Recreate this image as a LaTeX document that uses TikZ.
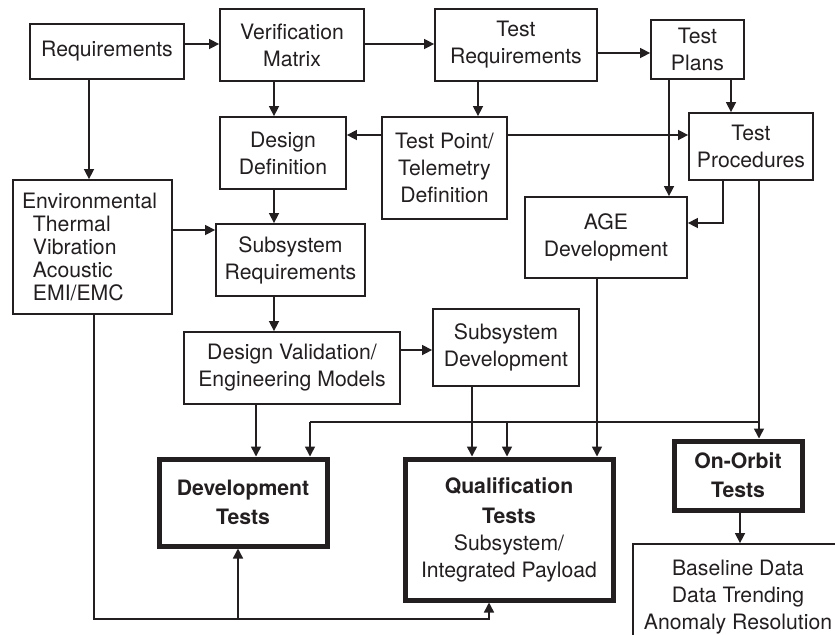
\documentclass[tikz,border=0pt]{standalone}
\usepackage{fontspec}
\setmainfont{TeX Gyre Heros}
\usetikzlibrary{arrows.meta,calc}
\definecolor{ink}{HTML}{231F20}
\begin{document}
\begin{tikzpicture}[x=0.5pt,y=-0.5pt, color=ink,
  bx/.style 2 args={draw=ink, text=ink, line width=0.9pt, align=center, inner sep=0pt,
    minimum width=#1*0.5pt, minimum height=#2*0.5pt,
    font=\fontsize{10.6pt}{13.5pt}\selectfont},
  tk/.style 2 args={bx={#1}{#2}, line width=2.5pt},
  arr/.style={draw=ink, line width=0.75pt, -{Triangle[length=5pt,width=5pt]}},
  ln/.style={draw=ink, line width=0.75pt}]
\useasboundingbox (0,0) rectangle (835,634);

% nodes
\node[bx={154}{55}] (req) at (107,51.5) {Requirements};
\node[bx={144}{72}] (vm) at (292,45) {Verification\\Matrix};
\node[bx={162}{72}] (treq) at (516,45) {Test\\Requirements};
\node[bx={93}{59}] (tplans) at (697.5,49.5) {Test\\Plans};
\node[bx={126}{72}] (dd) at (283,153) {Design\\Definition};
\node[bx={125}{102}] (tpd) at (444.5,168) {Test Point/\\Telemetry\\Definition};
\node[bx={124}{67}] (tproc) at (751,146.5) {Test\\Procedures};
\node[bx={159}{134}, align=left, text width=70.5pt, inner xsep=4.5pt,
      font=\fontsize{10.6pt}{11.5pt}\selectfont] (env) at (92.5,247)
  {Environmental\\\hspace*{5.5pt}Thermal\\\hspace*{5.5pt}Vibration\\\hspace*{5.5pt}Acoustic\\\hspace*{5.5pt}EMI/EMC};
\node[bx={149}{72}] (sreq) at (290.5,260) {Subsystem\\Requirements};
\node[bx={162}{81}] (age) at (606,237.5) {AGE\\Development};
\node[bx={216}{72}] (dv) at (292,368) {Design Validation/\\Engineering Models};
\node[bx={146}{77}] (sdev) at (506,347.5) {Subsystem\\Development};
\node[tk={168}{87}] (devt) at (243,502.5) {\textbf{Development}\\[1pt]\textbf{Tests}};
\node[tk={208}{141}] (qual) at (509,529.5) {\textbf{Qualification}\\[1.5pt]\textbf{Tests}\\Subsystem/\\Integrated Payload};
\node[tk={128}{69}] (orbit) at (738,475.5) {\textbf{On-Orbit}\\[1pt]\textbf{Tests}};
\begin{scope}
  \clip (0,0) rectangle (835,634);
  \node[bx={210}{106}] (base) at (738,597) {Baseline Data\\Data Trending\\Anomaly Resolution};
\end{scope}

% helper coordinates
\coordinate (y44) at (0,44);
\coordinate (y53) at (0,53);
\coordinate (y135) at (0,135);
\coordinate (y223) at (0,223);
\coordinate (y230) at (0,230);
\coordinate (y350) at (0,350);
\coordinate (y422) at (0,422);
\coordinate (y619) at (0,619);
\coordinate (x89) at (89,0);
\coordinate (x94) at (94,0);
\coordinate (x238) at (238,0);
\coordinate (x256) at (256,0);
\coordinate (x274) at (274,0);
\coordinate (x310) at (310,0);
\coordinate (x472) at (472,0);
\coordinate (x478) at (478,0);
\coordinate (x489) at (489,0);
\coordinate (x507) at (507,0);
\coordinate (x597) at (597,0);
\coordinate (x669) at (669,0);
\coordinate (x723) at (723,0);
\coordinate (x731) at (731,0);
\coordinate (x740) at (740,0);
\coordinate (x759) at (759,0);

% connectors
\draw[arr] (req.east|-y44) -- (vm.west|-y44);
\draw[arr] (vm.east|-y44) -- (treq.west|-y44);
\draw[arr] (treq.east|-y53) -- (tplans.west|-y53);
\draw[arr] (req.south-|x89) -- (env.north-|x89);
\draw[arr] (vm.south-|x274) -- (dd.north-|x274);
\draw[arr] (treq.south-|x478) -- (tpd.north-|x478);
\draw[arr] (tpd.west|-y135) -- (dd.east|-y135);
\draw[arr] (tpd.east|-y135) -- (tproc.west|-y135);
\draw[arr] (tplans.south-|x731) -- (tproc.north-|x731);
\draw[arr] (tplans.south-|x669) -- (age.north-|x669);
\draw[arr] (tproc.south-|x723) |- (age.east|-y223);
\draw[arr] (dd.south-|x274) -- (sreq.north-|x274);
\draw[arr] (env.east|-y230) -- (sreq.west|-y230);
\draw[arr] (sreq.south-|x274) -- (dv.north-|x274);
\draw[arr] (dv.east|-y350) -- (sdev.west|-y350);
\draw[arr] (dv.south-|x256) -- (devt.north-|x256);
\draw[arr] (sdev.south-|x472) -- (qual.north-|x472);
\draw[arr] (age.south-|x597) -- (qual.north-|x597);
\draw[arr] (tproc.south-|x759) -- (orbit.north-|x759);
\coordinate (jl) at (x310|-y422);
\coordinate (jr) at (x759|-y422);
\draw[ln] (jl) -- (jr);
\draw[arr] (jl) -- (devt.north-|jl);
\draw[arr] (x507|-y422) -- (qual.north-|x507);
\draw[arr] (env.south-|x94) |- (x489|-y619) -- (qual.south-|x489);
\draw[arr] (x238|-y619) -- (devt.south-|x238);
\draw[arr] (orbit.south-|x740) -- (base.north-|x740);
\end{tikzpicture}
\end{document}
